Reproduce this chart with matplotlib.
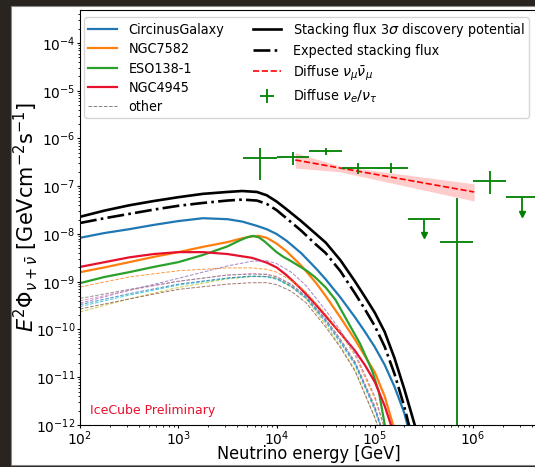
import numpy as np
import matplotlib
matplotlib.use("Agg")
import matplotlib.pyplot as plt
from matplotlib.patches import Rectangle
from matplotlib.ticker import LogLocator, NullFormatter

# energy grid (log10 GeV) for the stacking curves and Circinus
logE_main = [2.0, 2.25, 2.5, 2.75, 3.0, 3.25, 3.5, 3.65, 3.8, 3.9, 4.0, 4.1, 4.25, 4.4, 4.5,
             4.65, 4.8, 4.9, 5.0, 5.1, 5.2, 5.3, 5.42]

# log10 of E^2 flux, GeV cm^-2 s^-1
stack_3sigma = [-7.64, -7.51, -7.40, -7.31, -7.23, -7.16, -7.12, -7.10, -7.12, -7.19, -7.32, -7.48,
                -7.73, -8.00, -8.18, -8.55, -9.00, -9.32, -9.65, -10.05, -10.60, -11.25, -12.1]
stack_expected = [-7.77, -7.67, -7.58, -7.49, -7.41, -7.35, -7.30, -7.28, -7.30, -7.37, -7.50, -7.67,
                  -7.93, -8.22, -8.40, -8.78, -9.25, -9.58, -9.93, -10.36, -10.93, -11.62, -12.6]
circinus = [-8.08, -7.98, -7.90, -7.81, -7.73, -7.67, -7.69, -7.74, -7.83, -7.90, -8.00, -8.14,
            -8.40, -8.72, -8.95, -9.33, -9.75, -10.05, -10.37, -10.74, -11.20, -11.75, -12.7]

logE_ngc7582 = [2.0, 2.25, 2.5, 2.75, 3.0, 3.25, 3.5, 3.65, 3.75, 3.82, 3.9, 4.0, 4.1, 4.25, 4.4,
                4.5, 4.65, 4.8, 4.9, 5.0, 5.1, 5.2]
ngc7582 = [-8.80, -8.70, -8.59, -8.48, -8.38, -8.27, -8.17, -8.09, -8.05, -8.04, -8.08, -8.20, -8.36,
           -8.66, -9.02, -9.30, -9.75, -10.22, -10.56, -10.90, -11.40, -12.1]

logE_eso138 = [2.0, 2.25, 2.5, 2.75, 3.0, 3.25, 3.5, 3.62, 3.7, 3.76, 3.82, 3.88, 3.94, 4.0, 4.07,
               4.14, 4.22, 4.3, 4.39, 4.5, 4.6, 4.73, 4.85, 4.97, 5.04, 5.11]
eso138 = [-9.03, -8.90, -8.80, -8.69, -8.59, -8.44, -8.26, -8.14, -8.07, -8.04, -8.07, -8.16, -8.27,
          -8.38, -8.48, -8.56, -8.66, -8.76, -8.90, -9.12, -9.38, -9.86, -10.30, -10.85, -11.30, -12.1]

logE_ngc4945 = [2.0, 2.25, 2.5, 2.75, 3.0, 3.25, 3.5, 3.75, 3.9, 4.0, 4.1, 4.25, 4.4, 4.5, 4.65,
                4.8, 4.9, 5.0, 5.1, 5.18]
ngc4945 = [-8.69, -8.59, -8.49, -8.42, -8.38, -8.38, -8.42, -8.50, -8.60, -8.70, -8.86, -9.15, -9.48,
           -9.72, -10.08, -10.45, -10.75, -11.10, -11.60, -12.1]

# remaining sources (thin dashed)
logE_other = [2.0, 2.5, 3.0, 3.5, 3.75, 3.9, 4.0, 4.15, 4.3, 4.5, 4.65, 4.8, 5.0, 5.15]
other_colors = ["C1", "C4", "C6", "C7", "C8", "C9", "C5", "C0"]
other_fluxes = [
    [-9.11, -8.90, -8.77, -8.71, -8.71, -8.74, -8.80, -8.97, -9.22, -9.68, -10.08, -10.55, -11.45, -12.4],
    [-9.45, -9.18, -8.93, -8.67, -8.57, -8.56, -8.62, -8.80, -9.08, -9.60, -10.02, -10.50, -11.40, -12.4],
    [-9.40, -9.18, -8.99, -8.86, -8.83, -8.84, -8.89, -9.05, -9.30, -9.80, -10.22, -10.70, -11.65, -12.6],
    [-9.35, -9.16, -8.99, -8.86, -8.84, -8.85, -8.90, -9.06, -9.30, -9.78, -10.20, -10.68, -11.60, -12.6],
    [-9.63, -9.36, -9.12, -8.94, -8.89, -8.89, -8.93, -9.10, -9.36, -9.90, -10.35, -10.85, -11.85, -12.8],
    [-9.52, -9.28, -9.07, -8.93, -8.89, -8.90, -8.95, -9.11, -9.35, -9.85, -10.28, -10.75, -11.70, -12.6],
    [-9.57, -9.36, -9.16, -9.05, -9.02, -9.02, -9.06, -9.20, -9.44, -9.95, -10.38, -10.88, -11.85, -12.7],
    [-9.48, -9.25, -9.05, -8.92, -8.88, -8.89, -8.93, -9.09, -9.33, -9.82, -10.25, -10.72, -11.65, -12.6],
]

# diffuse numu fit (best fit line + band)
numu_logE = [4.19, 4.65, 6.01]
numu_best = [-6.45, -6.62, -7.12]
numu_upper = [-6.30, -6.58, -6.95]
numu_lower = [-6.62, -6.70, -7.31]

# diffuse cascade (nue/nutau) unfolded points
casc_E = [6.8e3, 1.47e4, 3.16e4, 6.8e4, 1.47e5, 6.8e5, 1.47e6]
casc_lo = [4.6e3, 1.0e4, 2.15e4, 4.6e4, 1.0e5, 4.6e5, 1.0e6]
casc_hi = [1.0e4, 2.15e4, 4.6e4, 1.0e5, 2.15e5, 1.0e6, 2.15e6]
casc_flux = [3.9e-7, 4.1e-7, 5.5e-7, 2.4e-7, 2.4e-7, 6.8e-9, 1.29e-7]
casc_up = [6.3e-7, 5.2e-7, 6.3e-7, 3.1e-7, 3.1e-7, 5.6e-8, 2.1e-7]
casc_down = [1.35e-7, 2.8e-7, 4.5e-7, 1.8e-7, 1.9e-7, 1e-13, 6.9e-8]

# cascade upper limits
ul_E = [3.16e5, 3.16e6]
ul_lo = [2.15e5, 2.15e6]
ul_hi = [4.6e5, 4.6e6]
ul_flux = [2.05e-8, 6.0e-8]
ul_arrow = [0.46, 0.44]


def p(v):
    return 10 ** np.asarray(v)


fig = plt.figure(figsize=(5.35, 4.67), dpi=100, facecolor="#29241f")
fig.add_artist(Rectangle((11 / 535, 2 / 467), 1, 459 / 467, transform=fig.transFigure,
                         facecolor="white", edgecolor="#888888", lw=0.8, zorder=0))
ax = fig.add_axes([80 / 535, 42 / 467, 458 / 535, 415 / 467])

h_circ, = ax.plot(p(logE_main), p(circinus), color="C0", lw=1.6, label="CircinusGalaxy")
h_7582, = ax.plot(p(logE_ngc7582), p(ngc7582), color="C1", lw=1.6, label="NGC7582")
h_eso, = ax.plot(p(logE_eso138), p(eso138), color="C2", lw=1.6, label="ESO138-1")
h_4945, = ax.plot(p(logE_ngc4945), p(ngc4945), color="#e8112d", lw=1.6, label="NGC4945")
for c, f in zip(other_colors, other_fluxes):
    ax.plot(p(logE_other), p(f), color=c, lw=0.7, ls="--", alpha=0.8)
h_other, = ax.plot([], [], color="grey", lw=0.7, ls="--", label="other")

h_dp, = ax.plot(p(logE_main), p(stack_3sigma), color="black", lw=1.9,
                label=r"Stacking flux 3$\sigma$ discovery potential")
h_ex, = ax.plot(p(logE_main), p(stack_expected), color="black", lw=1.9, ls="-.",
                label="Expected stacking flux")

ax.fill_between(p(numu_logE), p(numu_lower), p(numu_upper), color="red", alpha=0.2, lw=0)
h_numu, = ax.plot(p(numu_logE), p(numu_best), color="red", lw=1.2, ls="--",
                  label=r"Diffuse $\nu_\mu\bar{\nu}_\mu$")

casc_E = np.array(casc_E)
casc_flux = np.array(casc_flux)
xerr = [casc_E - np.array(casc_lo), np.array(casc_hi) - casc_E]
yerr = [casc_flux - np.array(casc_down), np.array(casc_up) - casc_flux]
h_casc = ax.errorbar(casc_E, casc_flux, xerr=xerr, yerr=yerr, fmt="none",
                     ecolor="green", elinewidth=1.3, capsize=0,
                     label=r"Diffuse $\nu_e/\nu_\tau$")

ul_E = np.array(ul_E)
ul_flux = np.array(ul_flux)
ul_bottom = ul_flux * np.array(ul_arrow)
ax.errorbar(ul_E, ul_flux, xerr=[ul_E - np.array(ul_lo), np.array(ul_hi) - ul_E],
            yerr=[ul_flux - ul_bottom, np.zeros(2)], fmt="none",
            ecolor="green", elinewidth=1.3, capsize=0)
ax.plot(ul_E, ul_bottom, ls="none", marker="v", ms=4, color="green")

ax.set_xscale("log")
ax.set_yscale("log")
ax.set_xlim(1e2, 4.57e6)
ax.set_ylim(1e-12, 4.9e-4)
ax.yaxis.set_major_locator(LogLocator(base=10, numticks=20))
ax.yaxis.set_minor_locator(LogLocator(base=10, subs=np.arange(2, 10), numticks=20))
ax.yaxis.set_minor_formatter(NullFormatter())
ax.xaxis.set_minor_formatter(NullFormatter())
ax.tick_params(which="major", labelsize=10, length=2.5, pad=1)
ax.tick_params(axis="x", which="major", pad=0.5)
ax.tick_params(which="minor", length=1.5)

ax.set_xlabel("Neutrino energy [GeV]", fontsize=13, fontstretch="condensed")
ax.xaxis.set_label_coords(0.5, -0.048)
ax.set_ylabel(r"$E^2\Phi_{\nu+\bar{\nu}}$ [GeVcm$^{-2}$s$^{-1}$]", fontsize=15)
ax.yaxis.set_label_coords(-0.087, 0.5)

ax.text(0.022, 0.034, "IceCube Preliminary", color="#e8112d", fontsize=9,
        transform=ax.transAxes, va="center")

handles = [h_circ, h_7582, h_eso, h_4945, h_other, h_dp, h_ex, h_numu, h_casc]
ax.legend(handles=handles, loc="upper left", bbox_to_anchor=(4 / 458, 1 - 7 / 415),
          borderaxespad=0, borderpad=0.3, ncol=2, prop={"size": 10.3, "stretch": "condensed"},
          labelspacing=0.36, handlelength=2.0, columnspacing=2.0)

fig.savefig("out.png", dpi=100, facecolor=fig.get_facecolor())
